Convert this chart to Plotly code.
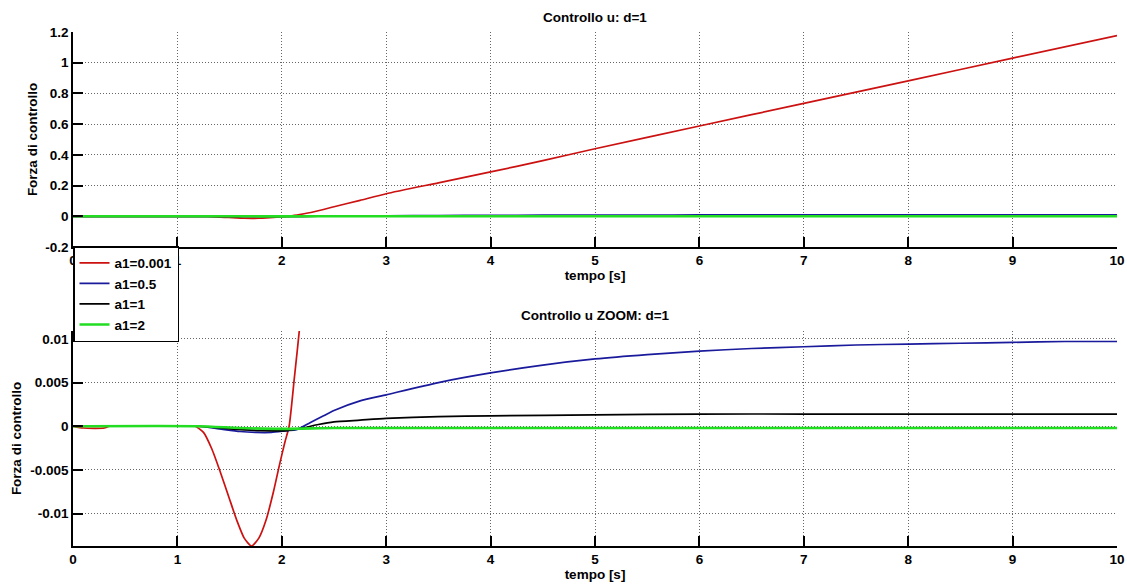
import plotly.graph_objects as go

# ---- data ----
t_red = [0, 0.1, 0.3, 0.35, 1.1, 1.17, 1.25, 1.33, 1.41, 1.49, 1.57, 1.64, 1.71, 1.78,
         1.85, 1.92, 1.98, 2.03, 2.07, 2.12, 2.17, 2.3, 2.5, 2.75, 3, 3.5, 4, 4.5, 5, 6, 7,
         8, 9, 10]
u_red = [0, -0.0002, -0.0002, 0, 0, 0, -0.0007, -0.0026, -0.0052, -0.0080, -0.0108,
         -0.0128, -0.0137, -0.0128, -0.0107, -0.0075, -0.0043, -0.0018, 0, 0.0055, 0.0112,
         0.028, 0.062, 0.104, 0.147, 0.218, 0.289, 0.362, 0.440, 0.588, 0.735, 0.882, 1.03,
         1.177]

t_blue = [0, 1.2, 1.4, 1.6, 1.75, 1.9, 2.05, 2.14, 2.27, 2.4, 2.5, 2.75, 3, 3.5, 4, 4.5, 5,
          5.5, 6, 6.5, 7, 7.5, 8, 8.5, 9, 9.5, 10]
u_blue = [0, 0, -0.0003, -0.0006, -0.0007, -0.0007, -0.0005, -0.0004, 0.0004, 0.0012,
          0.0018, 0.0029, 0.0036, 0.0050, 0.0061, 0.0070, 0.0077, 0.0082, 0.0086, 0.0089,
          0.0091, 0.0093, 0.0094, 0.0095, 0.0096, 0.0097, 0.0097]

t_black = [0, 1.2, 1.5, 1.8, 2.05, 2.2, 2.35, 2.5, 2.75, 3, 3.5, 4, 5, 6, 7, 8, 9, 10]
u_black = [0, 0, -0.0003, -0.0005, -0.0005, -0.0002, 0.0002, 0.0005, 0.0007, 0.0009, 0.0011,
           0.0012, 0.0013, 0.0014, 0.0014, 0.0014, 0.0014, 0.0014]

t_green = [0, 1.2, 1.6, 2.0, 2.5, 3, 4, 5, 6, 7, 8, 9, 10]
u_green = [0, 0, -0.0002, -0.0003, -0.0002, -0.0002, -0.0002, -0.0002, -0.0002, -0.0002,
           -0.0002, -0.0002, -0.0002]

series_names = ["a1=0.001", "a1=0.5", "a1=1", "a1=2"]
series_colors = ["#cc1111", "#1a1a9c", "#000000", "#22dd22"]

x_ticks = [0, 1, 2, 3, 4, 5, 6, 7, 8, 9, 10]
x_ticktext = ["0", "1", "2", "3", "4", "5", "6", "7", "8", "9", "10"]
y1_ticks = [-0.2, 0, 0.2, 0.4, 0.6, 0.8, 1, 1.2]
y1_ticktext = ["-0.2", "0", "0.2", "0.4", "0.6", "0.8", "1", "1.2"]
y2_ticks = [-0.01, -0.005, 0, 0.005, 0.01]
y2_ticktext = ["-0.01", "-0.005", "0", "0.005", "0.01"]

title_top = "Controllo u: d=1"
title_bottom = "Controllo u ZOOM: d=1"
x_title = "tempo [s]"
y_title = "Forza di controllo"

# ---- figure ----
FONT = "Liberation Sans, Arial, sans-serif"
FS = 13.5
fnt = dict(family=FONT, size=FS, color="black", weight="bold")

fig = go.Figure()
data = [(t_red, u_red), (t_blue, u_blue), (t_black, u_black), (t_green, u_green)]
for (tx, uy), name, col in zip(data, series_names, series_colors):
    w = 2.6 if col == "#22dd22" else 1.7
    ln = dict(color=col, width=w, shape="spline", smoothing=0.6)
    fig.add_trace(go.Scatter(x=tx, y=uy, mode="lines", name=name, line=ln,
                             xaxis="x", yaxis="y", legendgroup=name))
    fig.add_trace(go.Scatter(x=tx, y=uy, mode="lines", name=name, showlegend=False,
                             line=ln, xaxis="x2", yaxis="y2", legendgroup=name))

W, H = 1127, 584
mt, mb, ml, mr = 32, 38, 73, 10
ph = H - mt - mb


def py(pix):
    return (H - mb - pix) / ph


axis_common = dict(showline=True, linecolor="black", linewidth=1.5, mirror=False,
                   ticks="inside", ticklen=10, tickwidth=1.5, tickcolor="black",
                   showgrid=True, gridcolor="#666666", griddash="1px,2px", gridwidth=1,
                   zeroline=False, automargin=False, ticklabeloverflow="allow",
                   tickfont=fnt)

fig.update_layout(
    width=W, height=H,
    margin=dict(l=ml, r=mr, t=mt, b=mb, autoexpand=False),
    paper_bgcolor="white", plot_bgcolor="white",
    font=fnt,
    showlegend=True,
    legend=dict(x=0, xanchor="left", y=py(246), yanchor="top",
                bgcolor="white", bordercolor="black", borderwidth=1.5,
                font=fnt, tracegroupgap=0, itemwidth=30),
    xaxis=dict(domain=[0, 1], range=[0, 10], tickvals=x_ticks, ticktext=x_ticktext,
               anchor="y", title=dict(text=x_title, standoff=3, font=fnt),
               **axis_common),
    yaxis=dict(domain=[py(247), 1], range=[-0.2, 1.2], tickvals=y1_ticks,
               ticktext=y1_ticktext, anchor="x",
               title=dict(text=y_title, standoff=5, font=fnt), **axis_common),
    xaxis2=dict(domain=[0, 1], range=[0, 10], tickvals=x_ticks, ticktext=x_ticktext,
                anchor="y2", title=dict(text=x_title, standoff=3, font=fnt),
                **axis_common),
    yaxis2=dict(domain=[0, py(331)], range=[-0.0137, 0.0109], tickvals=y2_ticks,
                ticktext=y2_ticktext, anchor="x2",
                title=dict(text=y_title, standoff=6, font=fnt), **axis_common),
    annotations=[
        dict(text=title_top, xref="paper", yref="paper", x=0.5, y=py(17),
             xanchor="center", yanchor="middle", showarrow=False, font=fnt),
        dict(text=title_bottom, xref="paper", yref="paper", x=0.5, y=py(315),
             xanchor="center", yanchor="middle", showarrow=False, font=fnt),
    ],
)

fig.write_html("out.html", config={"displayModeBar": False},
               post_script="document.body.style.margin='0';")
